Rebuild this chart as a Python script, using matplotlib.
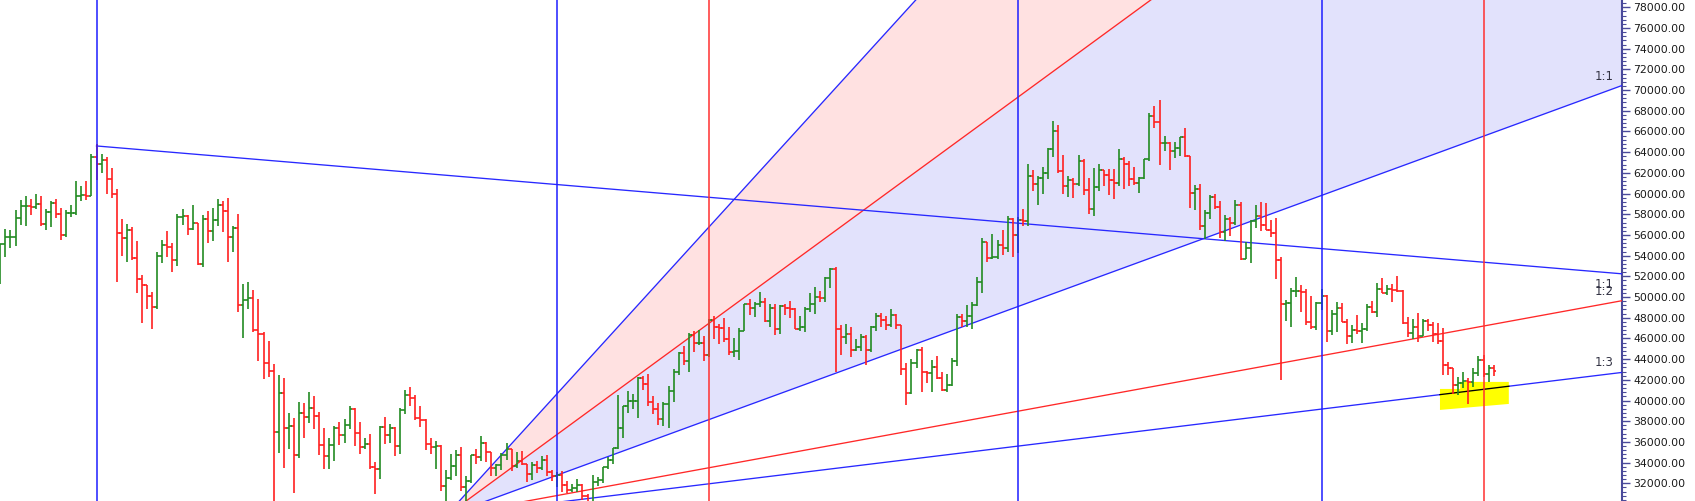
import matplotlib
matplotlib.use('Agg')
import matplotlib.pyplot as plt
from matplotlib.ticker import MultipleLocator, FormatStrFormatter
import numpy as np

# daily BTC bars, 26 Mar 2021 .. 15 Jan 2022 (index 0 = 26 Mar)
opens = [51300, 55100, 55800, 55800, 57600, 58800,
         58800, 58700, 59000, 57100, 58200, 59100, 58000, 56000, 58100, 58100, 59800, 59900, 59800, 63500, 62900,
         63200, 61400, 60000, 56200, 55700, 56500, 53800, 51700, 51200, 50100, 49000, 54000, 55000, 54800, 53600,
         57700, 57800, 56600, 57200, 53200, 57500, 56400, 57400, 58900, 58300, 55800, 56700, 49200, 49700, 49900,
         46800, 46400, 43600, 42900, 37000, 40700, 37300, 37500, 34700, 38800, 38400, 39300, 38500, 35700, 34600, 35700,
         37300, 36700, 37600, 39200, 36900, 35500, 35800, 33600, 33400, 37400, 36700, 37300, 35600, 39100, 40500,
         40200, 38300, 38100, 35800, 35500, 35600, 31700, 32500, 33700, 34700, 31600, 32200, 34700, 34500, 35900,
         35000, 33500, 33800, 34700, 35300, 33700, 34200, 33900, 32900, 33800, 33500, 34300, 33100, 32700, 32800,
         31800, 31400, 31500, 31800, 30800, 29800, 32100, 32300, 33600, 34300, 35400, 37300, 39500, 40000, 40000, 42200,
         41600, 39900, 39200, 38200, 39700, 40900, 42800, 44600, 43800, 46300, 45600, 45600, 44400, 47800, 47100,
         47000, 45900, 44700, 44800, 46700, 49300, 48900, 49300, 49500, 47700, 48900, 46900, 49100, 48900, 48800, 46900,
         47100, 48800, 49300, 50000, 49900, 51800, 52700, 46900, 46100, 46400, 44900, 45200, 46100, 44900, 47100,
         48200, 47800, 47300, 48300, 47300, 43000, 40700, 43600, 44900, 42800, 42700, 43200, 42200, 41000, 41500,
         43800, 48100, 47700, 48200, 49200, 51500, 55300, 53800, 53900, 55000, 54700, 57500, 56000, 57400, 57300,
         61700, 60900, 61500, 62000, 64300, 66000, 62200, 60700, 61300, 60900, 63100, 60300, 58500, 60600, 62300, 61800,
         61300, 61000, 63300, 62900, 61400, 61000, 61500, 63300, 67500, 66900, 64900, 64900, 64100, 64400, 65500,
         63600, 60100, 60400, 56900, 58100, 59700, 58700, 56300, 57500, 57200, 58900, 53700, 54700, 57300, 57800,
         57000, 56500, 56200, 53600, 49300, 49400, 50600, 50600, 50500, 47600, 47100, 49400, 50100, 46700, 48400,
         48900, 47600, 46200, 46800, 46700, 46900, 49000, 48600, 50800, 50400, 50800, 50700, 50600, 47500, 46500, 47100,
         46200, 47700, 47300, 46400, 45800, 43400, 43100, 41500, 41700, 41900, 41800, 42700, 43900, 42600, 43100]
highs = [55100, 56600, 56500, 58400, 59400, 59800,
         59500, 60000, 59800, 58500, 59300, 59500, 58600, 58400, 58900, 61200, 60700, 61200, 63800, 64800, 63800,
         63500, 62500, 60400, 57500, 57100, 56800, 55400, 52100, 51200, 50500, 54400, 55500, 56400, 55200, 58000,
         58500, 57900, 58900, 57200, 57900, 58300, 58600, 59500, 59300, 59600, 56900, 58000, 51300, 51500, 50700,
         49800, 46600, 45800, 43500, 42500, 42200, 38800, 38300, 39900, 39800, 40800, 40400, 38900, 37300, 36400, 37500,
         37900, 38200, 39500, 39300, 37900, 36400, 36800, 34100, 37500, 38400, 37700, 37400, 39300, 41000, 41300,
         40500, 39500, 38200, 36400, 36100, 35700, 33300, 34800, 35200, 35500, 32700, 34700, 35300, 36600, 36000,
         35000, 33900, 34900, 35900, 35300, 35000, 35100, 33900, 34100, 34200, 34600, 34700, 33300, 33100, 33200,
         32200, 31900, 32400, 31900, 31000, 32800, 32600, 33600, 34500, 35400, 40500, 39500, 40900, 40600, 42300, 42400,
         42600, 40400, 39800, 39900, 41400, 43000, 44700, 45300, 46500, 46700, 46800, 46200, 47900, 48200, 47400,
         48000, 47100, 46000, 47000, 49300, 49800, 49500, 50500, 49900, 49300, 49300, 49200, 49300, 49600, 48900, 48200,
         49000, 50400, 51000, 50600, 51900, 52800, 52900, 47300, 47400, 47100, 45900, 46400, 46300, 47200, 48500,
         48500, 48200, 48800, 48400, 47300, 43600, 44000, 45000, 45200, 42900, 43900, 44300, 42800, 42600, 44100,
         48400, 48400, 49200, 49500, 51900, 55700, 55300, 56100, 55500, 56500, 57800, 57600, 57700, 58500, 62900,
         62300, 61700, 62600, 64400, 67000, 66600, 63700, 61700, 61500, 63700, 63300, 61500, 62500, 62900, 62300, 62400,
         62400, 64300, 63500, 63100, 62600, 61600, 63300, 67800, 68500, 69000, 65600, 65000, 65000, 65500, 66300,
         63600, 60800, 60900, 58400, 59900, 60000, 59300, 57900, 57700, 59400, 59200, 55300, 57400, 58900, 59200,
         59100, 57400, 57600, 53900, 49700, 50900, 51900, 51200, 50800, 50100, 49500, 50800, 50200, 48700, 49500,
         49400, 47900, 47300, 48300, 47500, 49300, 49600, 51400, 51800, 51200, 51300, 52000, 50700, 48100, 47900, 48500,
         47900, 47900, 47600, 47500, 47000, 43700, 43100, 42300, 42800, 42200, 43100, 44300, 44400, 43400, 43450]
lows = [51300, 53900, 54700, 54900, 57000, 56900,
        57900, 58500, 56900, 56500, 56800, 57600, 55500, 55800, 57700, 57900, 59300, 59400, 59800, 61300, 62000,
        60000, 59600, 51500, 54000, 53400, 53600, 50400, 47500, 48800, 46900, 48800, 53300, 53900, 52400, 53000,
        57000, 56000, 56500, 53100, 52900, 55200, 55400, 56900, 56300, 53400, 54400, 48600, 46000, 48800, 46600,
        43800, 42100, 42300, 30000, 34900, 33500, 35300, 31100, 34400, 36400, 37800, 37200, 34700, 33400, 33400, 34200,
        35700, 35900, 37200, 35600, 34800, 35300, 33400, 31000, 32400, 35800, 35900, 34600, 34800, 38700, 39500,
        38100, 37400, 35200, 34800, 33400, 31300, 28800, 32300, 32700, 31300, 30200, 32000, 33900, 34200, 34100,
        32700, 32700, 33300, 34300, 33200, 33500, 33800, 32100, 32300, 33000, 33300, 32700, 32200, 31600, 31200,
        31100, 31200, 31200, 30400, 29300, 29500, 31700, 32000, 33400, 33900, 35300, 36400, 38800, 39200, 38300, 41000,
        39500, 38700, 37600, 37500, 37300, 39900, 42500, 43400, 42800, 44700, 45400, 43800, 44200, 45900, 45500,
        45700, 44400, 44200, 43900, 46700, 48300, 48100, 49000, 47600, 47100, 46300, 46400, 48300, 48000, 46900, 46700,
        46600, 48600, 48400, 49500, 49500, 50900, 42800, 44400, 45500, 44200, 44800, 44800, 43400, 44700, 46700,
        47100, 46800, 47100, 46900, 42500, 39600, 40600, 43100, 40800, 41700, 40800, 42100, 40900, 40800, 41400,
        43300, 47100, 47100, 46900, 49100, 50400, 53400, 53700, 53700, 54100, 54400, 53900, 54300, 56900, 56900,
        60200, 58900, 60000, 61400, 63500, 62000, 60000, 59700, 59600, 60700, 59900, 58000, 57800, 60200, 60700, 59900,
        59500, 60700, 60400, 60700, 60800, 60100, 61400, 63100, 66300, 62800, 64100, 62300, 63400, 63600, 63500,
        58600, 58400, 56500, 55600, 57500, 58500, 55700, 55400, 55900, 57000, 53600, 53700, 53300, 56700, 56400,
        56500, 55800, 51700, 42000, 47700, 47100, 50000, 48600, 47300, 46900, 46800, 48700, 45700, 46300, 46600,
        47600, 45500, 45600, 46400, 45600, 46700, 48500, 48100, 50400, 50200, 49500, 50500, 47400, 46100, 45900, 45700,
        46200, 46700, 45700, 45500, 42500, 42500, 40600, 40500, 41200, 39700, 41300, 42400, 42300, 41800, 42400]
closes = [55100, 55800, 55800, 57600, 58800, 58800,
          58700, 59000, 57100, 58200, 59100, 58000, 56000, 58100, 58100, 59800, 59900, 59800, 63500, 62900, 63200,
          61400, 60000, 56200, 55700, 56500, 53800, 51700, 51200, 50100, 49000, 54000, 55000, 54800, 53600, 57700,
          57800, 56600, 57200, 53200, 57500, 56400, 57400, 58900, 58300, 55800, 56700, 49200, 49700, 49900, 46800,
          46400, 43600, 42900, 37000, 40700, 37300, 37500, 34700, 38800, 38400, 39300, 38500, 35700, 34600, 35700, 37300,
          36700, 37600, 39200, 36900, 35500, 35800, 33600, 33400, 37400, 36700, 37300, 35600, 39100, 40500, 40200,
          38300, 38100, 35800, 35500, 35600, 31700, 32500, 33700, 34700, 31600, 32200, 34700, 34500, 35900, 35000,
          33500, 33800, 34700, 35300, 33700, 34200, 33900, 32900, 33800, 33500, 34300, 33100, 32700, 32800, 31800,
          31400, 31500, 31800, 30800, 29800, 32100, 32300, 33600, 34300, 35400, 37300, 39500, 40000, 40000, 42200, 41600,
          39900, 39200, 38200, 39700, 40900, 42800, 44600, 43800, 46300, 45600, 45600, 44400, 47800, 47100, 47000,
          45900, 44700, 44800, 46700, 49300, 48900, 49300, 49500, 47700, 48900, 46900, 49100, 48900, 48800, 46900, 47100,
          48800, 49300, 50000, 49900, 51800, 52700, 46900, 46100, 46400, 44900, 45200, 46100, 44900, 47100, 48200,
          47800, 47300, 48300, 47300, 43000, 40700, 43600, 44900, 42800, 42700, 43200, 42200, 41000, 41500, 43800,
          48100, 47700, 48200, 49200, 51500, 55300, 53800, 53900, 55000, 54700, 57500, 56000, 57400, 57300, 61700,
          60900, 61500, 62000, 64300, 66000, 62200, 60700, 61300, 60900, 63100, 60300, 58500, 60600, 62300, 61800, 61300,
          61000, 63300, 62900, 61400, 61000, 61500, 63300, 67500, 66900, 64900, 64900, 64100, 64400, 65500, 63600,
          60100, 60400, 56900, 58100, 59700, 58700, 56300, 57500, 57200, 58900, 53700, 54700, 57300, 57800, 57000,
          56500, 56200, 53600, 49300, 49400, 50600, 50600, 50500, 47600, 47100, 49400, 50100, 46700, 48400, 48900,
          47600, 46200, 46800, 46700, 46900, 49000, 48600, 50800, 50400, 50800, 50700, 50600, 47500, 46500, 47100, 46200,
          47700, 47300, 46400, 45800, 43400, 43100, 41500, 41700, 41900, 41800, 42700, 43900, 42600, 43100, 42900]

# gann fan from the 22 Jun low, price per bar for each angle
fan_origin = (88, 28850)
fan_names = ['3:1', '2:1', '1:1', '1:2', '1:3']
fan_rates = [537.0, 358.0, 179.0, 89.5, 59.67]
fan_colors = ['#2828ff', '#ff2828', '#2828ff', '#ff2828', '#2828ff']
fan_labels = ['', '', '1:1', '1:2', '1:3']

# falling line from the 14 Apr high
top_origin = (19, 64600)
top_rate = -41.0

blue_cycles = [19, 110, 201, 261]
red_cycles = [140, 293]

# yellow marker round the last bars
mark_x = [284.4, 288.4, 288.4, 298.0, 298.0, 284.4]
mark_y = [41120, 41120, 41800, 41800, 39670, 39090]

xmin, xmax = -0.064, 320.36
ymin, ymax = 30290, 78705

fig = plt.figure(figsize=(16.95, 5.01), dpi=100)
ax = fig.add_axes([0, 0, 1622 / 1695, 1])
ax.set_xlim(xmin, xmax)
ax.set_ylim(ymin, ymax)

day = np.arange(len(closes))
o = np.array(opens, float)
h = np.array(highs, float)
l = np.array(lows, float)
c = np.array(closes, float)

# fan fills
fx = np.linspace(fan_origin[0], xmax, 200)
fan_lines = [fan_origin[1] + r * (fx - fan_origin[0]) for r in fan_rates]
ax.fill_between(fx, fan_lines[1], fan_lines[0], color='#ffe1e1', lw=0, zorder=1)
ax.fill_between(fx, fan_lines[2], fan_lines[1], color='#e2e2fc', lw=0, zorder=1)
for name, yy, col, lab in zip(fan_names, fan_lines, fan_colors, fan_labels):
    ax.plot(fx, yy, color=col, lw=0.95, zorder=3)
    if lab:
        ax.annotate(lab, xy=(xmax, yy[-1]), xytext=(-8, 3), textcoords='offset pixels',
                    ha='right', va='bottom', fontsize=8.5, color='#333344', zorder=6)

tx = np.array([top_origin[0], xmax])
ty = top_origin[1] + top_rate * (tx - top_origin[0])
ax.plot(tx, ty, color='#2828ff', lw=0.95, zorder=3)
ax.annotate('1:1', xy=(xmax, ty[-1]), xytext=(-8, -4), textcoords='offset pixels',
            ha='right', va='top', fontsize=8.5, color='#333344', zorder=6)

# highlight
ax.fill(mark_x, mark_y, color='#ffff00', lw=0, zorder=3.5)
sx = np.array([mark_x[0], mark_x[3]])
ax.plot(sx, fan_origin[1] + fan_rates[4] * (sx - fan_origin[0]), color='black', lw=0.95, zorder=3.6)

# ohlc bars
up = c >= o
cols = np.where(up, '#228b22', '#ff2020')
ax.vlines(day, np.minimum(l, np.minimum(o, c)), np.maximum(h, np.maximum(o, c)), colors=cols, lw=1.2, zorder=4)
ax.hlines(o, day - 0.55, day, colors=cols, lw=1.2, zorder=4)
ax.hlines(c, day, day + 0.55, colors=cols, lw=1.2, zorder=4)

for d in blue_cycles:
    ax.axvline(d, color='#1e1eff', lw=1.1, zorder=5)
for d in red_cycles:
    ax.axvline(d, color='#ff3030', lw=1.1, zorder=5)

for s in ['left', 'top', 'bottom']:
    ax.spines[s].set_visible(False)
ax.spines['right'].set_color('#4a4a9a')
ax.spines['right'].set_linewidth(1.5)
ax.set_xticks([])
ax.yaxis.tick_right()
ax.yaxis.set_major_locator(MultipleLocator(2000))
ax.yaxis.set_minor_locator(MultipleLocator(400))
ax.yaxis.set_major_formatter(FormatStrFormatter('%.2f'))
ax.tick_params(axis='y', which='major', length=6, width=1, color='#4a4a9a', pad=2, labelsize=7.8, labelcolor='#1a1a1a')
ax.tick_params(axis='y', which='minor', length=3, width=0.8, color='#4a4a9a')
ax.set_yticks(np.arange(32000, 78001, 2000))
ax.set_ylim(ymin, ymax)

fig.savefig('out.png', dpi=100)
